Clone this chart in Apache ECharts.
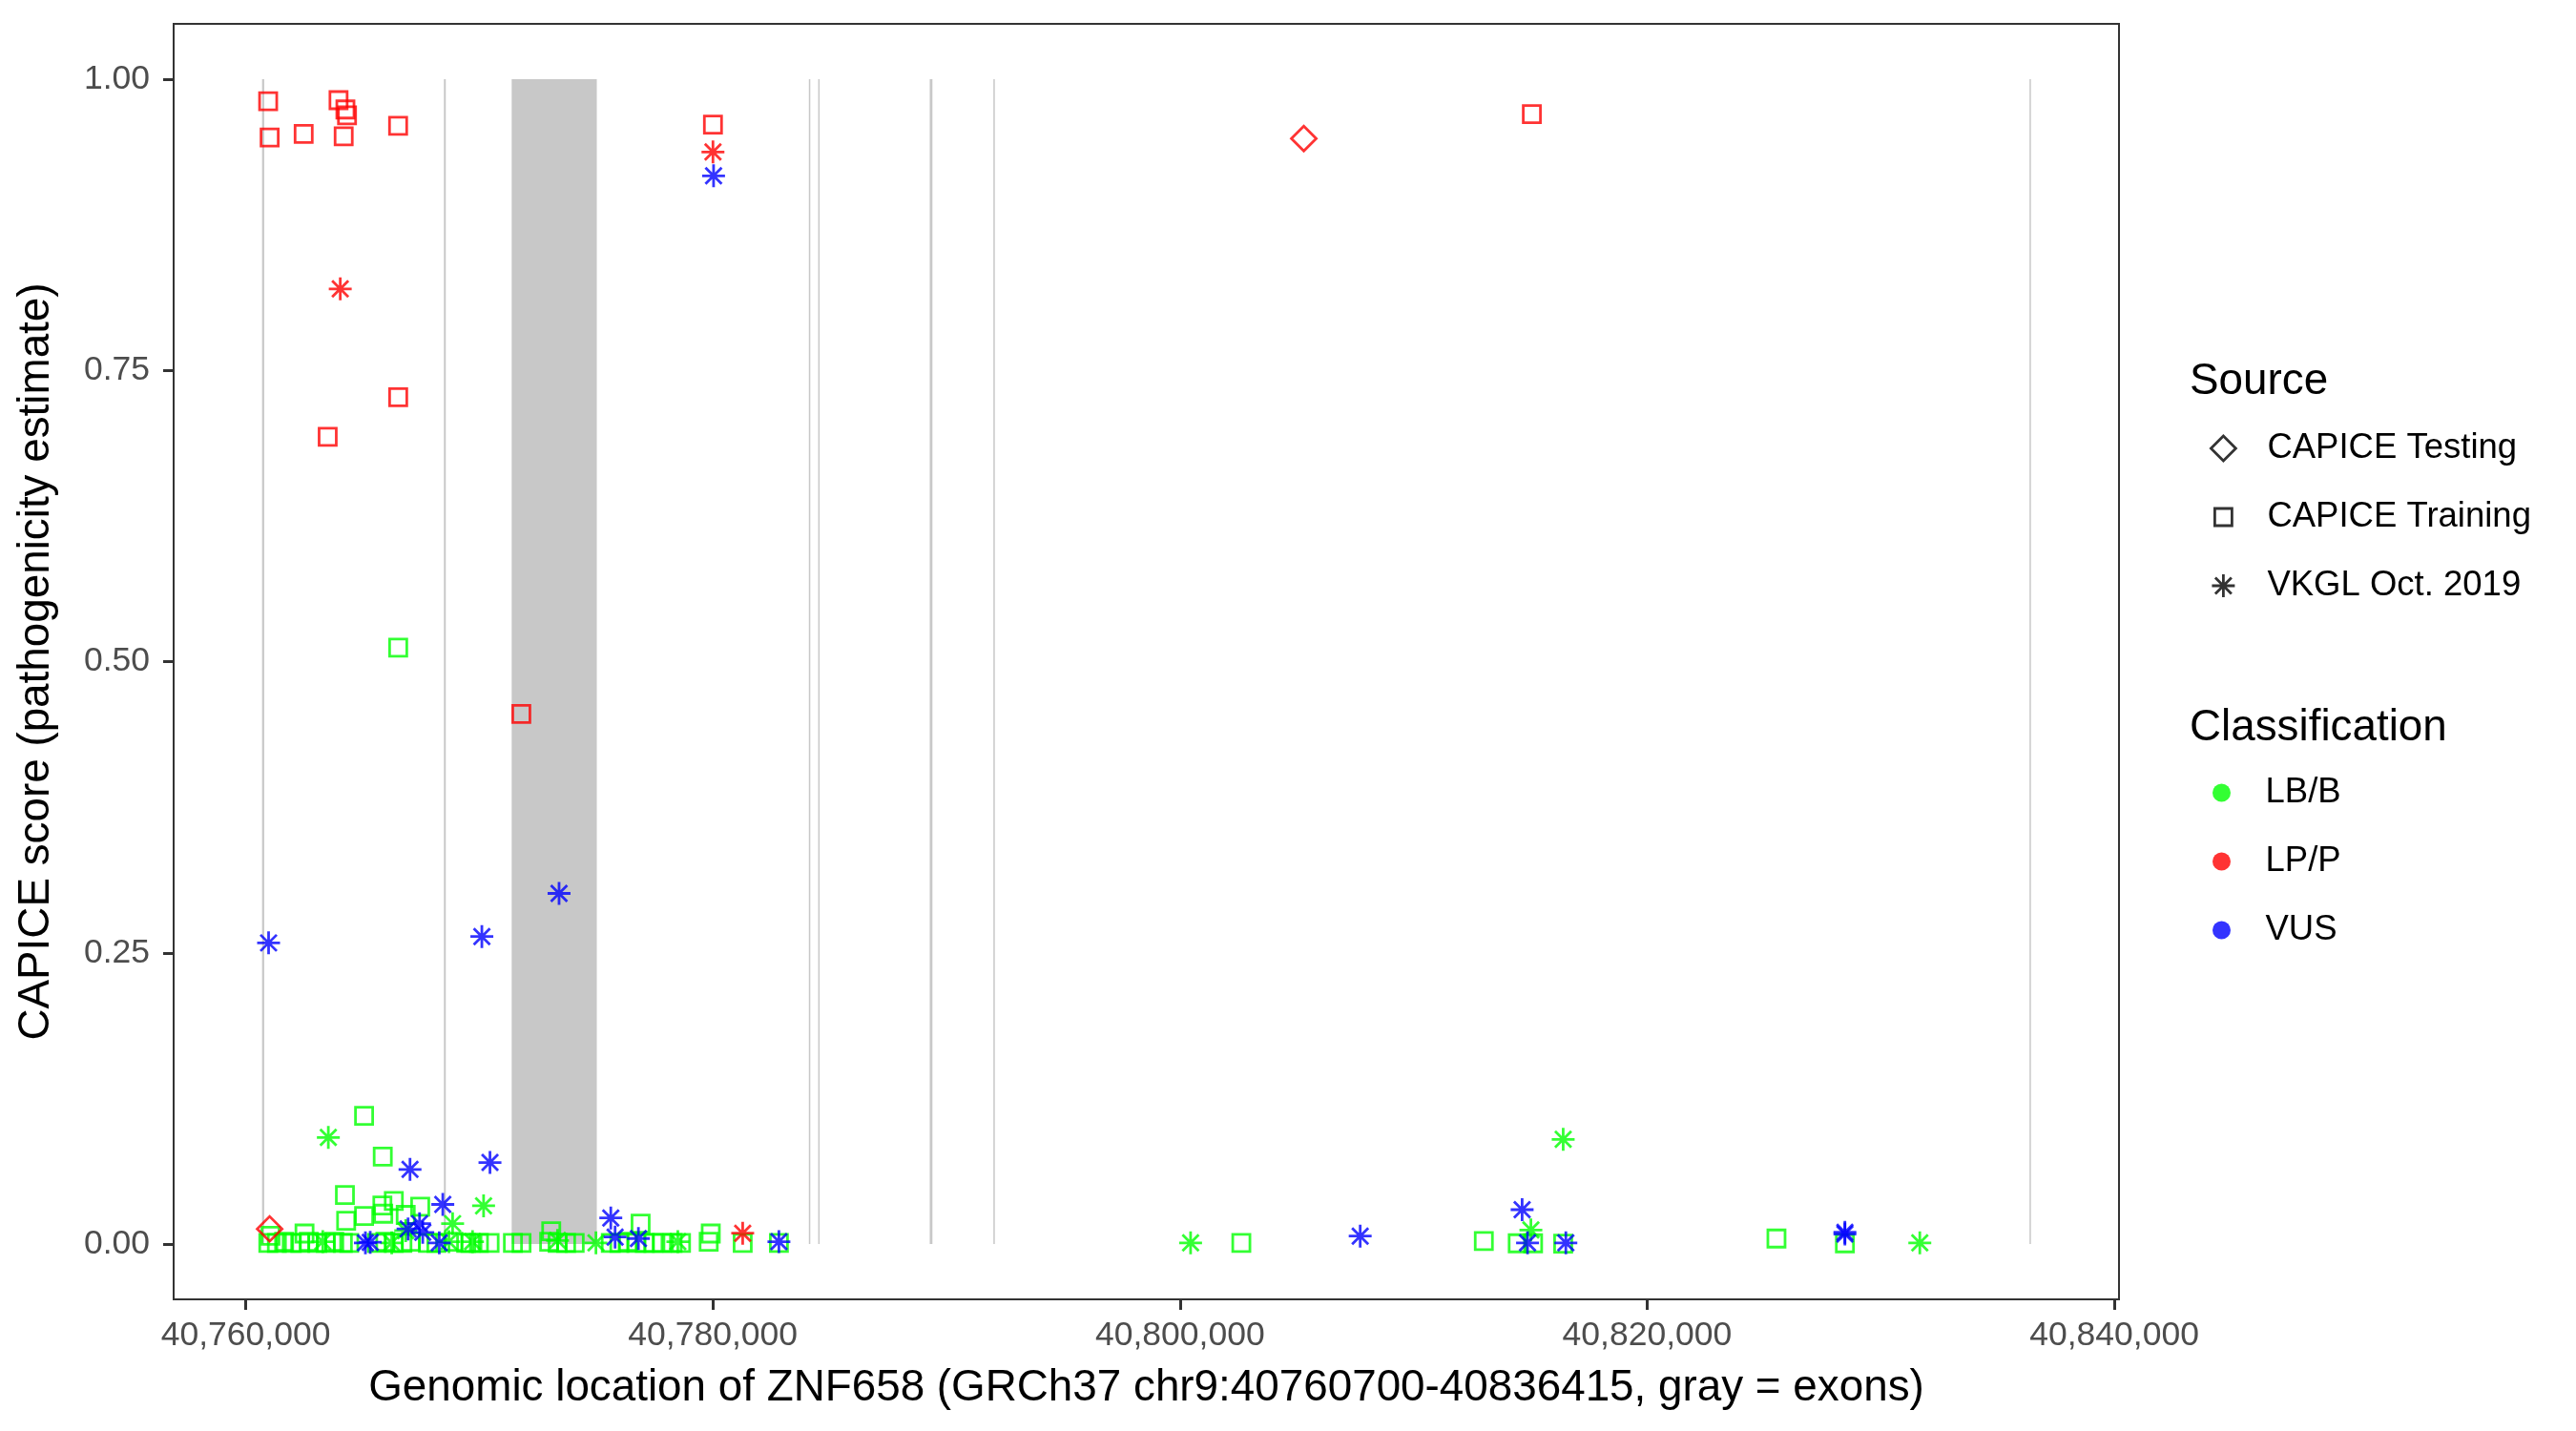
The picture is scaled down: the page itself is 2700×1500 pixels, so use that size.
<!DOCTYPE html>
<html><head><meta charset="utf-8">
<script src="https://cdn.jsdelivr.net/npm/echarts@6/dist/echarts.min.js"></script>
<style>html,body{margin:0;padding:0;background:#fff}#c{width:2700px;height:1500px}</style>
</head><body><div id="c"></div>
<script>
// ---- axis ticks ----
const xTicks = [40760000, 40780000, 40800000, 40820000, 40840000];
const yTicks = [0, 0.25, 0.5, 0.75, 1];

// ---- exons [start, end] ----
const exons = [
  [40760700, 40760790], [40768485, 40768565], [40771387, 40775031],
  [40784110, 40784160], [40784510, 40784555], [40789285, 40789400],
  [40792010, 40792065], [40836370, 40836415]
];

// ---- LP/P ----
const lppTraining = [
  [40760960, 0.981], [40761024, 0.950], [40762481, 0.953], [40763974, 0.982],
  [40764268, 0.974], [40764337, 0.969], [40764194, 0.951], [40766524, 0.960],
  [40780004, 0.961], [40815063, 0.970], [40766528, 0.727], [40763509, 0.693],
  [40771800, 0.455]
];
const lppTesting = [[40805300, 0.949], [40761024, 0.013]];
const lppVkgl = [[40764047, 0.820], [40780004, 0.9375], [40781277, 0.0093]];

// ---- VUS ----
const vusVkgl = [
  [40780030, 0.917], [40773415, 0.301], [40770110, 0.264], [40760979, 0.2585],
  [40767034, 0.064], [40770457, 0.070], [40768437, 0.034], [40767442, 0.0175],
  [40767580, 0.010], [40766950, 0.013], [40775630, 0.0224], [40775814, 0.006],
  [40776813, 0.0047], [40782828, 0.002], [40765124, 0.001], [40765330, 0.0015],
  [40768287, 0.001], [40807714, 0.0068], [40814647, 0.0295], [40814879, 0.001],
  [40816519, 0.001], [40828466, 0.0101], [40828466, 0.0085]
];

// ---- LB/B ----
const lbbVkgl = [
  [40763537, 0.0915], [40770184, 0.0328], [40768858, 0.0175], [40766850, 0.0115],
  [40763300, 0.002], [40766250, 0.001], [40768700, 0.002], [40769711, 0.002],
  [40773350, 0.003], [40774994, 0.001], [40778500, 0.002], [40800453, 0.001],
  [40815022, 0.012], [40816405, 0.0898], [40831673, 0.001]
];
const lbbTraining = [
  [40766528, 0.512], [40765067, 0.110], [40765867, 0.075], [40764247, 0.042],
  [40766340, 0.037], [40765851, 0.033], [40767470, 0.032], [40764300, 0.020],
  [40765067, 0.024], [40765887, 0.026], [40766850, 0.025], [40776907, 0.0175],
  [40773080, 0.011], [40779910, 0.009], [40761060, 0.007], [40762517, 0.009],
  [40760967, 0.001], [40761334, 0.001], [40761644, 0.002], [40761971, 0.001],
  [40762334, 0.001], [40762701, 0.002], [40763064, 0.001], [40763427, 0.001],
  [40763790, 0.002], [40764158, 0.001], [40764431, 0.001], [40765614, 0.001],
  [40765977, 0.002], [40766340, 0.001], [40766708, 0.001], [40767071, 0.002],
  [40767801, 0.001], [40768164, 0.001], [40768890, 0.002], [40769437, 0.001],
  [40769621, 0.001], [40769984, 0.001], [40770441, 0.001], [40771440, 0.001],
  [40771808, 0.001], [40772991, 0.002], [40773354, 0.001], [40773717, 0.001],
  [40774084, 0.001], [40775630, 0.001], [40775998, 0.001], [40776361, 0.002],
  [40776724, 0.001], [40777087, 0.001], [40777454, 0.001], [40777817, 0.001],
  [40778274, 0.001], [40778637, 0.001], [40779821, 0.002], [40781277, 0.001],
  [40782828, 0.001],
  [40802625, 0.001], [40813007, 0.0025], [40814459, 0.0006], [40815116, 0.0006],
  [40816405, 0.0003], [40825536, 0.0047], [40828466, 0.0006]
];

// ---- styling ----
const FONT = 'Liberation Sans, Arial, Helvetica, sans-serif';
const GREEN = '#00ff00', RED = '#ff0000', BLUE = '#0000ff';
const SYM = {
  testing: 'path://M13,0 L26,13 L13,26 L0,13 Z',
  training: 'path://M0,0 M26,26 M4,4 L22,4 L22,22 L4,22 Z',
  vkgl: 'path://M0,0 M26,26 M13,1 L13,25 M1,13 L25,13 M4.5,4.5 L21.5,21.5 M21.5,4.5 L4.5,21.5'
};
const SW = 2.8;
const TITLE_FS = 45.8;

function pts(name, data, sym, color) {
  return {
    type: 'scatter', name: name, data: data, symbol: sym, symbolSize: 26,
    itemStyle: { color: 'rgba(0,0,0,0)', borderColor: color, borderWidth: SW },
    emphasis: { disabled: true }, silent: true, z: 3
  };
}
function dummy(name, sym) {
  return { type: 'scatter', name: name, data: [], symbol: sym, symbolSize: 26,
    itemStyle: { color: 'rgba(0,0,0,0)', borderColor: '#000', borderWidth: SW } };
}

const chart = echarts.init(document.getElementById('c'));
chart.setOption({
  animation: false,
  backgroundColor: '#fff',
  textStyle: { fontFamily: FONT },
  title: [
    { text: 'Source', left: 2295, top: 376, padding: 0,
      textStyle: { fontSize: TITLE_FS, lineHeight: 48, fontWeight: 'normal', color: '#000', fontFamily: FONT } },
    { text: 'Classification', left: 2295, top: 739, padding: 0,
      textStyle: { fontSize: TITLE_FS, lineHeight: 48, fontWeight: 'normal', color: '#000', fontFamily: FONT } }
  ],
  legend: [
    { orient: 'vertical', left: 2316, top: 450, padding: 0, itemWidth: 82, itemHeight: 26, itemGap: 32,
      selectedMode: false,
      textStyle: { fontSize: 36.5, lineHeight: 40, color: '#000', fontFamily: FONT },
      data: [
        { name: 'CAPICE Testing', icon: SYM.testing, itemStyle: { color: 'rgba(0,0,0,0)', borderColor: '#000', borderWidth: SW } },
        { name: 'CAPICE Training', icon: SYM.training, itemStyle: { color: 'rgba(0,0,0,0)', borderColor: '#000', borderWidth: SW } },
        { name: 'VKGL Oct. 2019', icon: SYM.vkgl, itemStyle: { color: 'rgba(0,0,0,0)', borderColor: '#000', borderWidth: SW } }
      ] },
    { orient: 'vertical', left: 2319, top: 811, padding: 0, itemWidth: 82, itemHeight: 19, itemGap: 32,
      selectedMode: false,
      textStyle: { fontSize: 36.5, lineHeight: 40, color: '#000', fontFamily: FONT },
      data: [
        { name: 'LB/B', icon: 'circle', itemStyle: { color: GREEN, borderWidth: 0 } },
        { name: 'LP/P', icon: 'circle', itemStyle: { color: RED, borderWidth: 0 } },
        { name: 'VUS', icon: 'circle', itemStyle: { color: BLUE, borderWidth: 0 } }
      ] }
  ],
  grid: { left: 182, right: 479, top: 25, bottom: 138, show: true,
    borderColor: '#333', borderWidth: 2, backgroundColor: '#fff' },
  xAxis: {
    type: 'value', min: 40756914, max: 40840201,
    name: 'Genomic location of ZNF658 (GRCh37 chr9:40760700-40836415, gray = exons)',
    nameLocation: 'middle', nameGap: 69,
    nameTextStyle: { fontSize: TITLE_FS, lineHeight: 48, color: '#000', fontFamily: FONT },
    axisLine: { show: false, onZero: false },
    splitLine: { show: false },
    axisTick: { show: true, length: 11, lineStyle: { color: '#333', width: 3 }, customValues: xTicks },
    axisLabel: { margin: 20, fontSize: 35.5, color: '#4d4d4d', fontFamily: FONT, customValues: xTicks,
      formatter: v => Number(v).toLocaleString('en-US') }
  },
  yAxis: {
    type: 'value', min: -0.0475, max: 1.0475,
    name: 'CAPICE score (pathogenicity estimate)',
    nameLocation: 'middle', nameGap: 120, nameRotate: 90,
    nameTextStyle: { fontSize: TITLE_FS, lineHeight: 48, color: '#000', fontFamily: FONT },
    axisLine: { show: false, onZero: false },
    splitLine: { show: false },
    axisTick: { show: true, length: 11, lineStyle: { color: '#333', width: 3 }, customValues: yTicks },
    axisLabel: { margin: 25, fontSize: 35.5, color: '#4d4d4d', fontFamily: FONT, customValues: yTicks,
      formatter: v => Number(v).toFixed(2) }
  },
  series: [
    { type: 'custom', name: 'exons', data: exons, silent: true, z: 1,
      encode: { x: [0, 1] },
      renderItem: function (params, api) {
        const p0 = api.coord([api.value(0), 1]);
        const p1 = api.coord([api.value(1), 0]);
        return { type: 'rect',
          shape: { x: p0[0], y: p0[1], width: Math.max(p1[0] - p0[0], 1.5), height: p1[1] - p0[1] },
          style: { fill: '#c8c8c8' } };
      } },
    pts('LB/B', lbbTraining, SYM.training, GREEN),
    pts('LB/B', lbbVkgl, SYM.vkgl, GREEN),
    pts('VUS', vusVkgl, SYM.vkgl, BLUE),
    pts('LP/P', lppTraining, SYM.training, RED),
    pts('LP/P', lppTesting, SYM.testing, RED),
    pts('LP/P', lppVkgl, SYM.vkgl, RED),
    dummy('CAPICE Testing', SYM.testing),
    dummy('CAPICE Training', SYM.training),
    dummy('VKGL Oct. 2019', SYM.vkgl)
  ]
});
</script></body></html>
